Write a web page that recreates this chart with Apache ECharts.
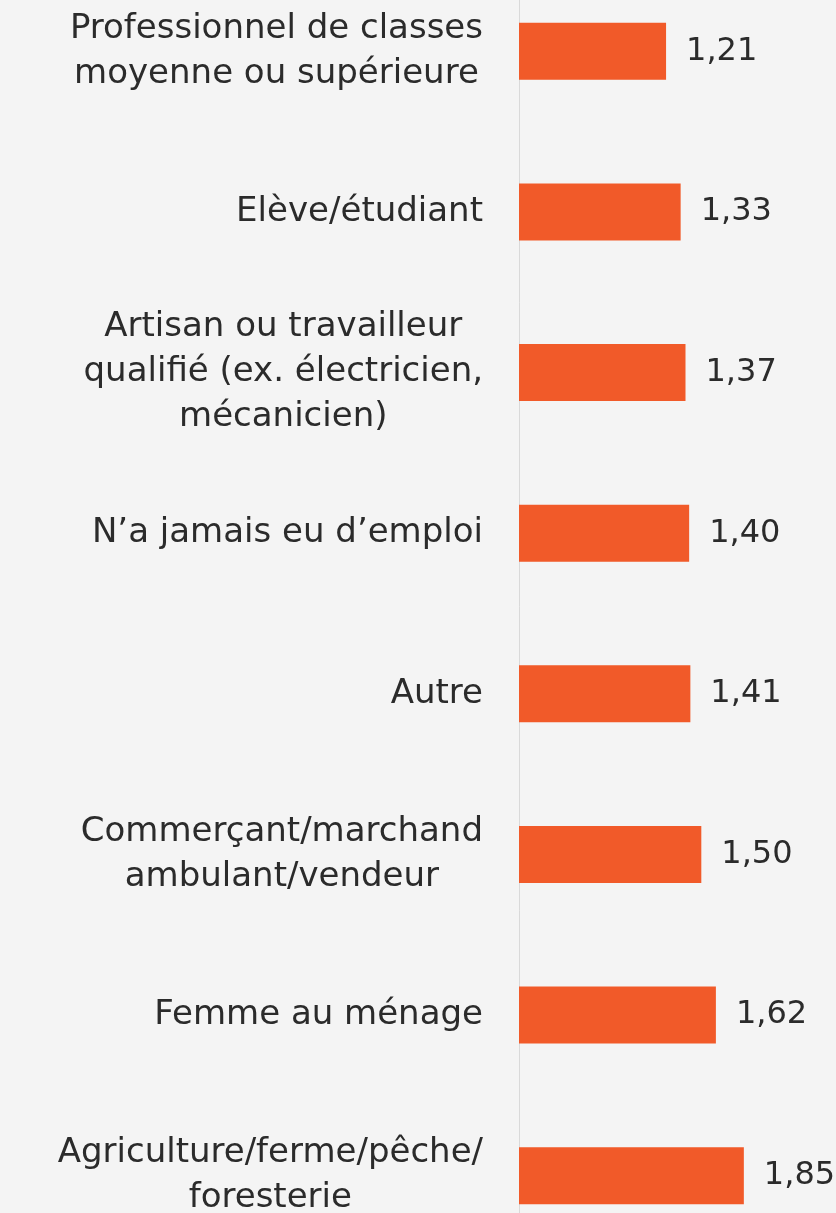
<!DOCTYPE html>
<html>
<head>
<meta charset="utf-8">
<script src="https://cdn.jsdelivr.net/npm/echarts@6/dist/echarts.min.js"></script>
<style>
  html, body { margin: 0; padding: 0; background: #f4f4f4; }
  #chart { width: 836px; height: 1213px; }
</style>
</head>
<body>
<div id="chart"></div>
<script>
  const categories = [
    'Professionnel de classes\nmoyenne ou supérieure',
    'Elève/étudiant',
    'Artisan ou travailleur\nqualifié (ex. électricien,\nmécanicien)',
    'N\u2019a jamais eu d\u2019emploi',
    'Autre',
    'Commerçant/marchand\nambulant/vendeur',
    'Femme au ménage',
    'Agriculture/ferme/pêche/\nforesterie'
  ];
  const values = [1.21, 1.33, 1.37, 1.40, 1.41, 1.50, 1.62, 1.85];

  const font = 'DejaVu Sans';
  const textColor = '#2b2b2b';

  const myChart = echarts.init(document.getElementById('chart'));
  const option = {
    backgroundColor: '#f4f4f4',
    animation: false,
    grid: {
      left: 519,
      width: 316,
      top: -29,
      height: 1285,
      outerBoundsMode: 'none',
      containLabel: false
    },
    xAxis: {
      type: 'value',
      min: 0,
      max: 2.6,
      show: false
    },
    yAxis: {
      type: 'category',
      inverse: true,
      data: categories,
      axisLine: { show: true, lineStyle: { color: '#d9d9d9', width: 1 } },
      axisTick: { show: false },
      axisLabel: {
        margin: 36,
        // each line centred inside the right-aligned block
        formatter: (v) => v.split('\n').map((l) => '{c|' + l + '}').join('\n'),
        rich: {
          c: {
            align: 'center',
            fontFamily: font,
            fontSize: 34,
            lineHeight: 45,
            color: textColor
          }
        }
      }
    },
    series: [
      {
        type: 'bar',
        data: values,
        barWidth: 57,
        itemStyle: { color: '#f15a29' },
        label: {
          show: true,
          position: 'right',
          distance: 20,
          fontFamily: font,
          fontSize: 32,
          color: textColor,
          formatter: (p) => p.value.toFixed(2).replace('.', ',')
        }
      }
    ]
  };
  myChart.setOption(option);
</script>
</body>
</html>
